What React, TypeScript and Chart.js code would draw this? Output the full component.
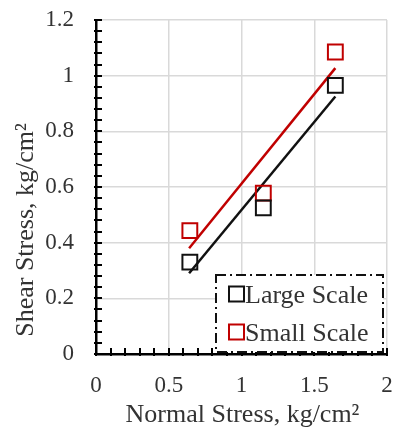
import React, { useEffect, useRef } from "react";
import { Chart, registerables } from "chart.js";

Chart.register(...registerables);

const normalStress = [0.645, 1.15, 1.645];
const largeScale = [0.33, 0.525, 0.965];
const smallScale = [0.443, 0.578, 1.085];
const trendX = [0.64, 1.645];
const largeTrend = [0.29, 0.925];
const smallTrend = [0.38, 1.027];
const legendLabels = ["Large Scale", "Small Scale"];
const seriesColors = ["#111111", "#c00000"];
const xTitle = "Normal Stress, kg/cm²";
const yTitle = "Shear Stress, kg/cm²";

const FONT = "'Liberation Serif', 'Times New Roman', serif";
const TEXT = "#333333";

const decorPlugin = {
  id: "decor",
  afterLayout(chart: any) {
    const target = chart.width - 7;
    const x = chart.scales.x;
    chart.chartArea.right = target;
    chart.chartArea.width = target - chart.chartArea.left;
    x.right = target;
    x.width = target - x.left;
    x.configure();
  },
  afterDraw(chart: any) {
    const { ctx, chartArea, scales } = chart;
    const xs = scales.x;
    const ys = scales.y;
    ctx.save();
    // minor ticks (inside)
    ctx.strokeStyle = "#000";
    ctx.lineWidth = 2;
    ctx.beginPath();
    for (let i = 0; i <= 30; i++) {
      const py = Math.round(ys.getPixelForValue(i * 0.04));
      ctx.moveTo(chartArea.left - 2, py);
      ctx.lineTo(chartArea.left + 6, py);
    }
    for (let i = 0; i <= 20; i++) {
      const px = Math.round(xs.getPixelForValue(i * 0.1));
      ctx.moveTo(px, chartArea.bottom + 2);
      ctx.lineTo(px, chartArea.bottom - 6);
    }
    ctx.stroke();

    // axis titles
    ctx.fillStyle = TEXT;
    ctx.font = `26px ${FONT}`;
    ctx.textAlign = "center";
    ctx.textBaseline = "alphabetic";
    ctx.fillText(xTitle, (chartArea.left + chartArea.right) / 2 + 1, 422);
    ctx.save();
    ctx.translate(33, 230);
    ctx.rotate(-Math.PI / 2);
    ctx.fillText(yTitle, 0, 0);
    ctx.restore();

    // legend box
    const bw = 167;
    const bh = 77;
    const bx = chartArea.right - 4 - bw;
    const by = chartArea.bottom - 2 - bh;
    ctx.fillStyle = "#ffffff";
    ctx.fillRect(bx, by, bw, bh);
    ctx.setLineDash([10, 4, 2, 4]);
    ctx.lineWidth = 2;
    ctx.strokeStyle = "#111";
    ctx.strokeRect(bx, by, bw, bh);
    ctx.setLineDash([]);
    ctx.font = `26px ${FONT}`;
    ctx.textAlign = "left";
    ctx.textBaseline = "alphabetic";
    legendLabels.forEach((lab, i) => {
      const cy = by + 19 + i * 38;
      const sx = bx + 13;
      ctx.strokeStyle = seriesColors[i];
      ctx.lineWidth = 2;
      ctx.strokeRect(sx, cy - 7.5, 15, 15);
      ctx.fillStyle = TEXT;
      ctx.fillText(lab, sx + 16, cy + 9);
    });
    ctx.restore();
  },
};

export default function App() {
  const ref = useRef<HTMLCanvasElement | null>(null);
  useEffect(() => {
    document.body.style.margin = "0";
    const canvas = ref.current!;
    const chart = new Chart(canvas, {
      type: "scatter",
      data: {
        datasets: [
          {
            label: legendLabels[0],
            data: normalStress.map((x, i) => ({ x, y: largeScale[i] })),
            borderColor: seriesColors[0],
            backgroundColor: "rgba(0,0,0,0)",
            pointStyle: "rect",
            pointRadius: 10.5,
            borderWidth: 2,
            showLine: false,
          },
          {
            label: legendLabels[1],
            data: normalStress.map((x, i) => ({ x, y: smallScale[i] })),
            borderColor: seriesColors[1],
            backgroundColor: "rgba(0,0,0,0)",
            pointStyle: "rect",
            pointRadius: 10.5,
            borderWidth: 2,
            showLine: false,
          },
          {
            label: "Large trend",
            data: trendX.map((x, i) => ({ x, y: largeTrend[i] })),
            borderColor: seriesColors[0],
            borderWidth: 2.5,
            pointRadius: 0,
            showLine: true,
          },
          {
            label: "Small trend",
            data: trendX.map((x, i) => ({ x, y: smallTrend[i] })),
            borderColor: seriesColors[1],
            borderWidth: 2.5,
            pointRadius: 0,
            showLine: true,
          },
        ],
      },
      options: {
        animation: false,
        responsive: false,
        layout: { padding: { top: 20, right: 7, left: 0, bottom: 0 } },
        plugins: { legend: { display: false }, tooltip: { enabled: false } },
        scales: {
          x: {
            type: "linear",
            min: 0,
            max: 2,
            afterFit: (s: any) => {
              s.height = 73;
              s.paddingLeft = 0;
              s.paddingRight = 0;
            },
            ticks: {
              stepSize: 0.5,
              padding: 18,
              color: TEXT,
              font: { family: FONT, size: 23 },
              callback: (v: any) => String(Number(Number(v).toFixed(1))),
            },
            grid: { color: "#d9d9d9", lineWidth: 1.5, drawTicks: false },
            border: { color: "#000", width: 2.5 },
          },
          y: {
            type: "linear",
            min: 0,
            max: 1.2,
            afterFit: (s: any) => {
              s.width = 96;
              s.paddingTop = 0;
              s.paddingBottom = 0;
            },
            ticks: {
              stepSize: 0.2,
              padding: 22,
              color: TEXT,
              font: { family: FONT, size: 23 },
              callback: (v: any) => String(Number(Number(v).toFixed(1))),
            },
            grid: { color: "#d9d9d9", lineWidth: 1.5, drawTicks: false },
            border: { color: "#000", width: 2.5 },
          },
        },
      },
      plugins: [decorPlugin],
    });
    return () => chart.destroy();
  }, []);
  return (
    <div style={{ width: 394, height: 427 }}>
      <canvas ref={ref} width={394} height={427} />
    </div>
  );
}
